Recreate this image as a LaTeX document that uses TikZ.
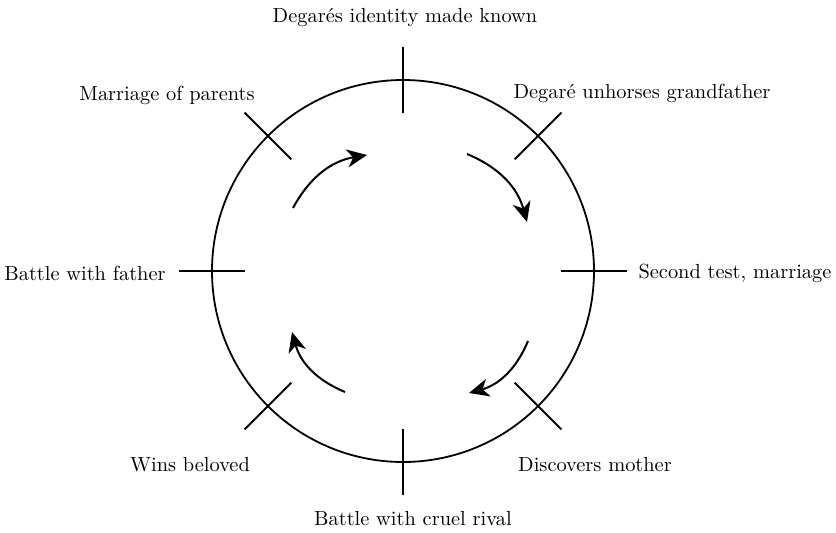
\documentclass[tikz,border=0pt]{standalone}
\usetikzlibrary{arrows.meta}
\begin{document}
\begin{tikzpicture}[x=1pt,y=1pt,
  ring/.style={line width=0.9pt},
  tick/.style={line width=0.9pt},
  flow/.style={line width=1pt,-{Stealth[length=10pt,width=9pt,inset=3pt]}},
  lbl/.style={font=\fontsize{10.2}{12}\selectfont,inner sep=0pt}]
\useasboundingbox (0,0) rectangle (418,266);

% the cycle
\coordinate (c) at (201.5,130.5);
\draw[ring] (c) circle[radius=95.5pt];

% stage markers across the ring
\foreach \a/\n in {90/n,45/ne,0/e,-45/se,-90/s,-135/sw,180/w,135/nw}{
  \coordinate (\n i) at ([shift={(\a:79pt)}]c);
  \coordinate (\n o) at ([shift={(\a:112pt)}]c);
  \draw[tick] (\n i) -- (\n o);
}

% direction of travel
\coordinate (a1s) at (146.5,162);  \coordinate (a1e) at (183.5,188.5);
\coordinate (a2s) at (233.5,189);  \coordinate (a2e) at (263.5,155);
\coordinate (a3s) at (264,95.5);   \coordinate (a3e) at (234.5,69.5);
\coordinate (a4s) at (172.5,70);   \coordinate (a4e) at (146,100);
\draw[flow] (a1s) to[bend left=26] (a1e);
\draw[flow] (a2s) to[bend left=26] (a2e);
\draw[flow] (a3s) to[bend left=26] (a3e);
\draw[flow] (a4s) to[bend left=26] (a4e);

% stage labels
\node[lbl] (tn)  at (202.5,257.5) {Degarés identity made known};
\node[lbl] (tne) at (321,219.5)   {Degaré unhorses grandfather};
\node[lbl] (te)  at (367.5,129.5) {Second test, marriage};
\node[lbl] (tse) at (297.5,33.5)  {Discovers mother};
\node[lbl] (ts)  at (206.5,6.5)   {Battle with cruel rival};
\node[lbl] (tsw) at (95,33.5)     {Wins beloved};
\node[lbl] (tw)  at (42.5,129.5)  {Battle with father};
\node[lbl] (tnw) at (83.5,218.5)  {Marriage of parents};
\end{tikzpicture}
\end{document}
